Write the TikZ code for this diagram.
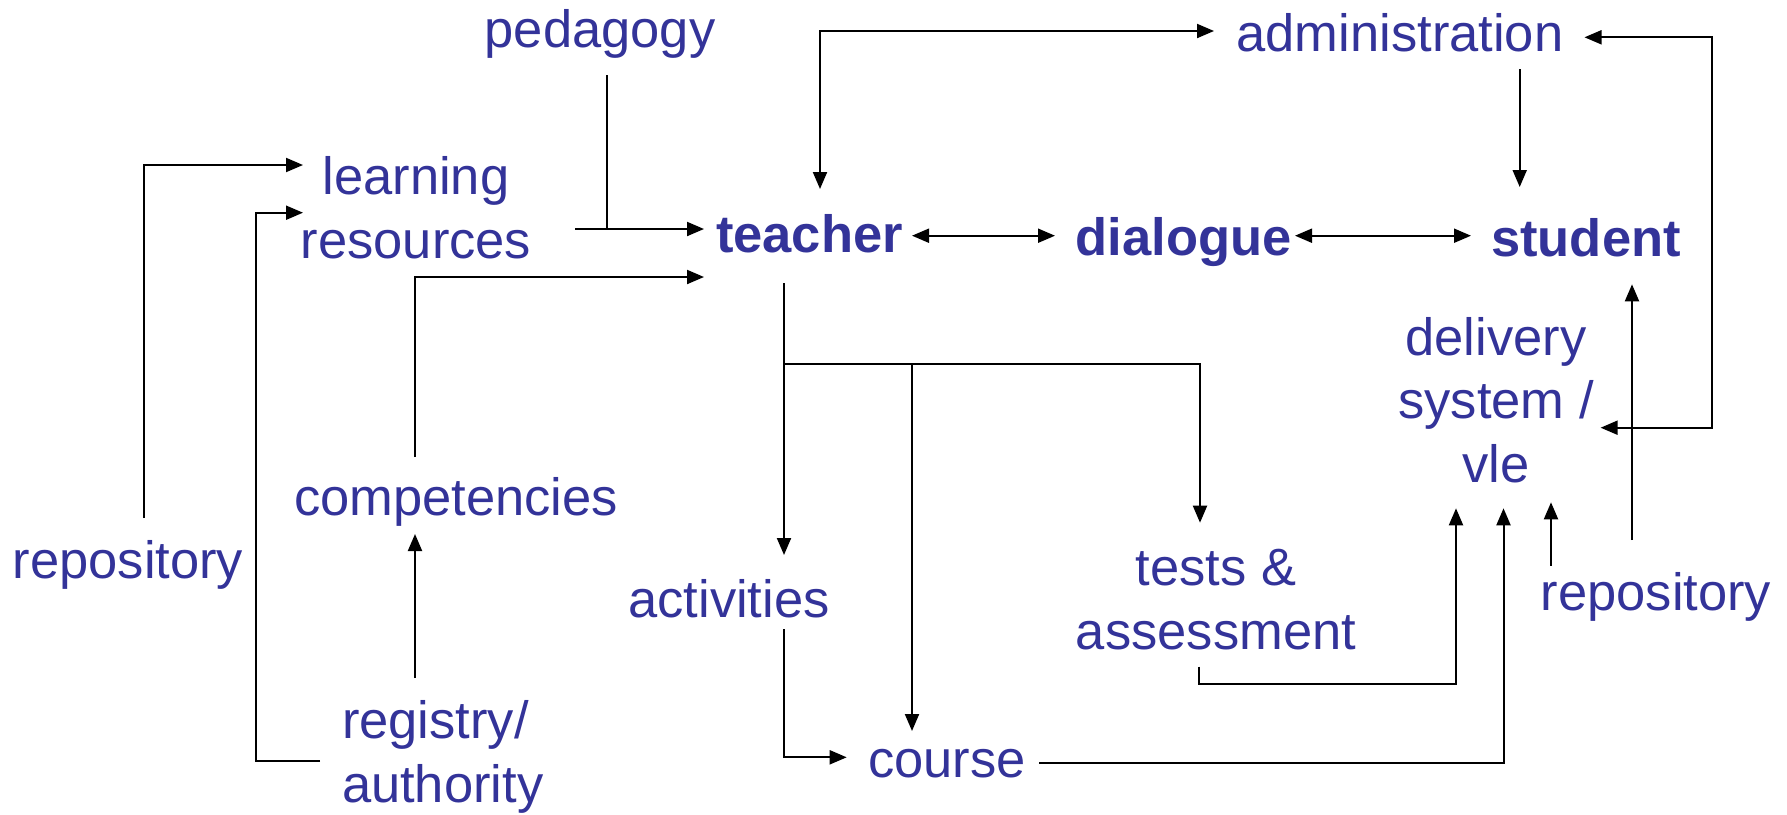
\documentclass[tikz,border=0pt]{standalone}
\usepackage{fontspec}
\setmainfont{Liberation Sans}
\usetikzlibrary{arrows.meta}
\definecolor{txt}{RGB}{51,51,153}
\begin{document}
\begin{tikzpicture}[x=0.5pt,y=-0.5pt,
  lbl/.style={text=txt,font=\fontsize{26.25pt}{31.75pt}\selectfont,inner sep=0pt,anchor=base,align=center},
  bld/.style={lbl,font=\fontsize{26.25pt}{31.75pt}\selectfont\bfseries},
  conn/.style={line width=1pt,black},
  arr/.style={conn,-{Triangle[length=8.5pt,width=7pt]}},
  darr/.style={conn,{Triangle[length=8.5pt,width=7pt]}-{Triangle[length=8.5pt,width=7pt]}},
]
\useasboundingbox (0,0) rectangle (1787,814);
% nodes (multi-line nodes: base = baseline of last line)
\node[lbl] (pedagogy) at (600,47) {pedagogy};
\node[lbl] (learning) at (416,258) {learning\\resources};
\node[bld] (teacher) at (809.5,252) {teacher};
\node[bld] (dialogue) at (1183.7,255) {dialogue};
\node[bld] (student) at (1586,256) {student};
\node[lbl] (admin) at (1400,51) {administration};
\node[lbl] (delivery) at (1496,482) {delivery\\system /\\vle};
\node[lbl] (repoR) at (1656,610) {repository};
\node[lbl] (tests) at (1216,649) {tests \&\\assessment};
\node[lbl] (course) at (947,777) {course};
\node[lbl] (activities) at (729,617) {activities};
\node[lbl] (competencies) at (456,515) {competencies};
\node[lbl,align=left,anchor=base west] (registry) at (341.6,802) {registry/\\authority};
\node[lbl] (repoL) at (128,578) {repository};
% connector ends
\coordinate (ped-o) at (607,75);
\coordinate (lr-o) at (575,229);
\coordinate (t-in1) at (704,229);
\coordinate (comp-o) at (415,457);
\coordinate (t-in2) at (704,277);
\coordinate (repL-o) at (143.5,518);
\coordinate (lr-in1) at (303,165);
\coordinate (reg-o1) at (320,761);
\coordinate (lr-in2) at (303,212.7);
\coordinate (reg-o2) at (415,678);
\coordinate (comp-in) at (415,534);
\coordinate (adm-in1) at (1214,31);
\coordinate (t-in3) at (820,189);
\coordinate (adm-o) at (1519.7,69);
\coordinate (st-in1) at (1519.7,187);
\coordinate (t-r) at (912,235.7);
\coordinate (d-l) at (1055,235.7);
\coordinate (d-r) at (1295,235.7);
\coordinate (st-l) at (1471,235.7);
\coordinate (adm-in2) at (1584.5,37.3);
\coordinate (del-in1) at (1600.6,427.7);
\coordinate (repR-o1) at (1632,540);
\coordinate (st-in2) at (1632,284.3);
\coordinate (repR-o2) at (1551,565.7);
\coordinate (del-in2) at (1551,502.3);
\coordinate (t-o) at (784,283);
\coordinate (act-in) at (784,555);
\coordinate (tests-in) at (1200,522.7);
\coordinate (course-in1) at (912,731);
\coordinate (act-o) at (784,629);
\coordinate (course-in2) at (846.7,757.3);
\coordinate (tests-o) at (1199,666.7);
\coordinate (del-in3) at (1456,508.3);
\coordinate (course-o) at (1039,763.3);
\coordinate (del-in4) at (1503.5,508.3);
% connectors
\draw[arr] (lr-o) -- (t-in1);
\draw[conn] (ped-o) -- (ped-o |- t-in1);
\draw[arr] (comp-o) |- (t-in2);
\draw[arr] (repL-o) |- (lr-in1);
\draw[arr] (reg-o1) -- (255.5,761) |- (lr-in2);
\draw[arr] (reg-o2) -- (comp-in);
\draw[darr] (adm-in1) -| (t-in3);
\draw[arr] (adm-o) -- (st-in1);
\draw[darr] (t-r) -- (d-l);
\draw[darr] (d-r) -- (st-l);
\draw[darr] (adm-in2) -- (1711.7,37.3) |- (del-in1);
\draw[arr] (repR-o1) -- (st-in2);
\draw[arr] (repR-o2) -- (del-in2);
\draw[arr] (t-o) -- (act-in);
\draw[arr] (t-o |- 0,364) -| (tests-in);
\draw[arr] (course-in1 |- 0,364) -- (course-in1);
\draw[arr] (act-o) |- (course-in2);
\draw[arr] (tests-o) -- (1199,683.7) -| (del-in3);
\draw[arr] (course-o) -| (del-in4);
\end{tikzpicture}
\end{document}
